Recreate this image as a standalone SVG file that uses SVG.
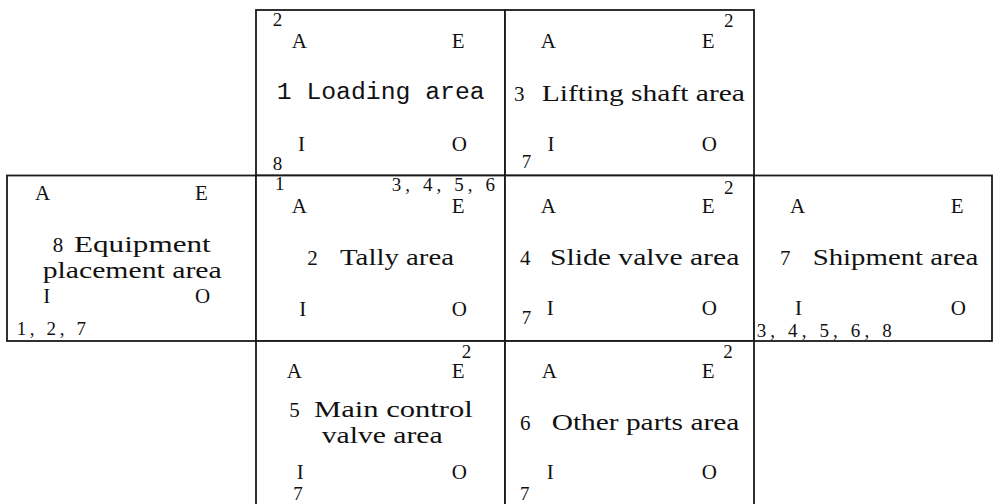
<svg xmlns="http://www.w3.org/2000/svg" width="993" height="504" viewBox="0 0 993 504">
<style>
.box{fill:#fff;stroke:#1a1a1a;stroke-width:1.8}
text{font-family:"Liberation Serif","Times New Roman",serif;fill:#111}
.k{font-size:21px}
.d{font-size:19px}
.lb{font-size:24px}
.ld{font-size:21px}
.mono{font-family:"Liberation Mono","Courier New",monospace;font-size:23px}
</style>
<rect x="0" y="0" width="993" height="504" fill="#fff"/>
<g id="connectors"></g>

<g id="node1">
<rect class="box" x="256" y="10" width="249" height="165.5"/>
<text class="d" x="272.7" y="25.7">2</text>
<text class="k" x="291.7" y="47.7">A</text>
<text class="k" x="451.7" y="47.7">E</text>
<text class="mono" x="276.7" y="99" textLength="208" lengthAdjust="spacingAndGlyphs">1 Loading area</text>
<text class="k" x="298" y="150.7">I</text>
<text class="k" x="451.7" y="150.7">O</text>
<text class="d" x="272.7" y="170">8</text>
</g>

<g id="node3">
<rect class="box" x="505" y="10" width="249" height="165.5"/>
<text class="d" x="724" y="26.7">2</text>
<text class="k" x="540.7" y="47.7">A</text>
<text class="k" x="701.7" y="47.7">E</text>
<text class="lb" y="100.7"><tspan class="ld" x="514">3 </tspan><tspan x="541.7" textLength="203.3" lengthAdjust="spacingAndGlyphs">Lifting shaft area</tspan></text>
<text class="k" x="547.5" y="150.7">I</text>
<text class="k" x="701.7" y="150.7">O</text>
<text class="d" x="521.7" y="168.3">7</text>
</g>

<g id="node8">
<rect class="box" x="7" y="175.5" width="249" height="165.5"/>
<text class="k" x="35" y="200">A</text>
<text class="k" x="195" y="200">E</text>
<text class="lb" y="252.3"><tspan class="ld" x="52.7">8 </tspan><tspan x="74" textLength="136.7" lengthAdjust="spacingAndGlyphs">Equipment</tspan></text>
<text class="lb" x="42.7" y="277.5" textLength="179" lengthAdjust="spacingAndGlyphs">placement area</text>
<text class="k" x="43.3" y="302.7">I</text>
<text class="k" x="195" y="302.7">O</text>
<text class="d" x="16.7" y="335" textLength="69.3" lengthAdjust="spacing">1, 2, 7</text>
</g>

<g id="node2">
<rect class="box" x="256" y="175.5" width="249" height="165.5"/>
<text class="d" x="275" y="190">1</text>
<text class="d" x="391.7" y="191" textLength="103.3" lengthAdjust="spacing">3, 4, 5, 6</text>
<text class="k" x="291.7" y="213">A</text>
<text class="k" x="451.7" y="213">E</text>
<text class="lb" y="265"><tspan class="ld" x="307.3">2 </tspan><tspan x="340" textLength="114" lengthAdjust="spacingAndGlyphs">Tally area</tspan></text>
<text class="k" x="299.3" y="316">I</text>
<text class="k" x="451.7" y="316">O</text>
</g>

<g id="node4">
<rect class="box" x="505" y="175.5" width="249" height="165.5"/>
<text class="d" x="724" y="194">2</text>
<text class="k" x="540.7" y="212.7">A</text>
<text class="k" x="701.7" y="212.7">E</text>
<text class="lb" y="265"><tspan class="ld" x="520">4 </tspan><tspan x="550" textLength="189.3" lengthAdjust="spacingAndGlyphs">Slide valve area</tspan></text>
<text class="k" x="546.7" y="315">I</text>
<text class="k" x="701.7" y="315">O</text>
<text class="d" x="521.7" y="324">7</text>
</g>

<g id="node7">
<rect class="box" x="754" y="175.5" width="238" height="165.5"/>
<text class="k" x="790" y="212.7">A</text>
<text class="k" x="950.7" y="212.7">E</text>
<text class="lb" y="265"><tspan class="ld" x="780">7 </tspan><tspan x="812.7" textLength="165.6" lengthAdjust="spacingAndGlyphs">Shipment area</tspan></text>
<text class="k" x="795" y="315">I</text>
<text class="k" x="950.7" y="315">O</text>
<text class="d" x="756.7" y="336.7" textLength="135" lengthAdjust="spacing">3, 4, 5, 6, 8</text>
</g>

<g id="node5">
<rect class="box" x="256" y="341" width="249" height="165"/>
<text class="d" x="461.7" y="358.3">2</text>
<text class="k" x="286.7" y="377.7">A</text>
<text class="k" x="451.7" y="377.7">E</text>
<text class="lb" y="417.3"><tspan class="ld" x="289.3">5 </tspan><tspan x="314" textLength="158.7" lengthAdjust="spacingAndGlyphs">Main control</tspan></text>
<text class="lb" x="321.7" y="443.3" textLength="121" lengthAdjust="spacingAndGlyphs">valve area</text>
<text class="k" x="296.7" y="479">I</text>
<text class="k" x="451.7" y="479">O</text>
<text class="d" x="293.3" y="500">7</text>
</g>

<g id="node6">
<rect class="box" x="505" y="341" width="249" height="165"/>
<text class="d" x="723.3" y="358.3">2</text>
<text class="k" x="541.7" y="377.7">A</text>
<text class="k" x="701.7" y="377.7">E</text>
<text class="lb" y="430"><tspan class="ld" x="520">6 </tspan><tspan x="551.7" textLength="187.6" lengthAdjust="spacingAndGlyphs">Other parts area</tspan></text>
<text class="k" x="546.7" y="479">I</text>
<text class="k" x="701.7" y="479">O</text>
<text class="d" x="520" y="500">7</text>
</g>
</svg>
